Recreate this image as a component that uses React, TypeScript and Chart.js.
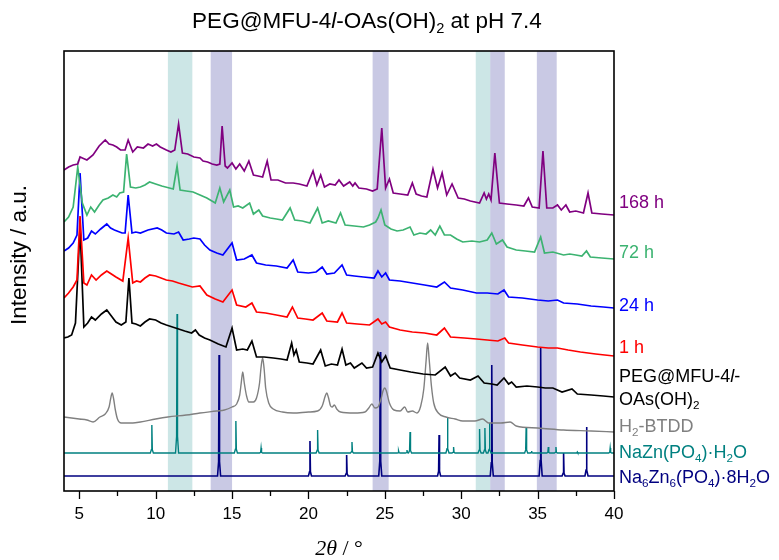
import React, { useEffect, useRef } from "react";
import { Chart, registerables } from "chart.js";
Chart.register(...registerables);

// ---------- data (2θ in degrees, intensity in arbitrary offset units) ----------
const X_MIN = 4;
const X_MAX = 40;
const X_TICKS = [5, 10, 15, 20, 25, 30, 35, 40];
const X_MINOR_TICKS = [7.5, 12.5, 17.5, 22.5, 27.5, 32.5, 37.5];

const TEAL_BANDS = [[10.8, 12.4], [30.95, 31.9]];
const PURPLE_BANDS = [[13.6, 15.0], [24.2, 25.25], [31.9, 32.85], [34.95, 36.25]];

const H168 = [
  [4.0, 321], [4.3, 324], [4.6, 326], [4.9, 327], [5.05, 334], [5.2, 333], [5.5, 331], [5.9, 336], [6.3, 345], [6.7, 351],
  [6.95, 347], [7.2, 346], [7.45, 344], [7.7, 341], [8.0, 341], [8.2, 351], [8.5, 339], [8.8, 344], [9.2, 343], [9.5, 347],
  [9.8, 345], [10.05, 347], [10.3, 344], [10.7, 341], [11.0, 339], [11.25, 341], [11.5, 367], [11.75, 338], [12.1, 337], [12.5, 334],
  [12.9, 333], [13.1, 330], [13.4, 329], [13.7, 327], [14.0, 326], [14.2, 327], [14.35, 365], [14.55, 325], [14.7, 323], [15.0, 328],
  [15.25, 322], [15.5, 327], [15.8, 320], [16.1, 330], [16.4, 316], [16.7, 315], [17.0, 314], [17.3, 330], [17.55, 311], [18.0, 311],
  [18.5, 308], [19.0, 308], [19.4, 307], [19.9, 305], [20.3, 320], [20.55, 306], [20.8, 316], [21.05, 304], [21.4, 307], [21.75, 306],
  [22.0, 311], [22.3, 305], [22.7, 309], [22.9, 305], [23.05, 308], [23.3, 303], [23.8, 302], [24.2, 300], [24.5, 302], [24.8, 363],
  [25.05, 303], [25.3, 312], [25.55, 298], [26.0, 297], [26.5, 296], [26.8, 308], [27.05, 297], [27.4, 295], [27.75, 294], [28.15, 322],
  [28.45, 303], [28.75, 318], [29.05, 296], [29.4, 307], [29.8, 293], [30.2, 292], [30.6, 290], [31.2, 288], [31.5, 298], [31.65, 292],
  [31.8, 297], [31.95, 291], [32.2, 338], [32.5, 288], [33.0, 287], [33.6, 286], [34.1, 285], [34.4, 293], [34.65, 284], [35.1, 283],
  [35.35, 340], [35.6, 283], [36.0, 283], [36.3, 286], [36.55, 281], [36.85, 286], [37.1, 279], [37.5, 280], [38.0, 278], [38.3, 298],
  [38.55, 278], [39.2, 277], [40.0, 276],
];

const H72 = [
  [4.0, 269], [4.3, 274], [4.6, 284], [4.9, 324], [5.2, 288], [5.5, 276], [5.75, 284], [6.0, 279], [6.3, 286], [6.55, 291],
  [6.9, 293], [7.2, 296], [7.45, 294], [7.65, 298], [7.9, 299], [8.1, 337], [8.35, 304], [8.7, 303], [9.0, 304], [9.3, 306],
  [9.6, 309], [10.0, 307], [10.4, 305], [10.9, 303], [11.15, 302], [11.4, 325], [11.6, 301], [12.0, 300], [12.45, 299], [12.9, 296],
  [13.35, 293], [13.9, 288], [14.2, 303], [14.45, 289], [14.85, 301], [15.1, 284], [15.4, 285], [15.7, 283], [16.15, 288], [16.4, 277],
  [16.75, 281], [17.0, 275], [17.5, 273], [17.9, 272], [18.3, 271], [18.8, 283], [19.1, 271], [19.6, 270], [20.1, 268], [20.6, 283],
  [20.9, 268], [21.3, 270], [21.8, 268], [22.1, 278], [22.4, 266], [23.0, 265], [23.6, 264], [24.0, 266], [24.4, 269], [24.55, 273],
  [24.75, 281], [25.0, 266], [25.4, 262], [25.8, 260], [26.2, 261], [26.65, 264], [26.9, 256], [27.3, 258], [27.7, 257], [28.0, 261],
  [28.3, 256], [28.6, 265], [28.9, 256], [29.3, 256], [29.7, 252], [30.1, 249], [30.7, 250], [31.2, 249], [31.7, 251], [32.0, 258],
  [32.3, 247], [32.7, 251], [33.0, 244], [33.6, 241], [34.2, 240], [34.8, 239], [35.2, 254], [35.45, 238], [36.0, 239], [36.7, 236],
  [37.1, 237], [37.5, 236], [37.9, 235], [38.2, 240], [38.45, 234], [39.2, 233], [40.0, 232],
];

const H24 = [
  [4.0, 240], [4.3, 243], [4.6, 248], [4.85, 256], [5.05, 318], [5.3, 251], [5.55, 253], [5.8, 260], [6.05, 257], [6.4, 262],
  [6.8, 267], [7.05, 263], [7.3, 261], [7.8, 258], [8.0, 258], [8.2, 296], [8.45, 258], [8.7, 259], [9.0, 258], [9.5, 261],
  [10.1, 263], [10.4, 261], [10.7, 258], [11.2, 257], [11.5, 259], [11.8, 251], [12.2, 252], [12.5, 253], [12.9, 252], [13.2, 246],
  [13.55, 241], [14.0, 238], [14.4, 236], [15.0, 248], [15.3, 231], [15.8, 232], [16.3, 236], [16.6, 228], [17.2, 226], [17.9, 225],
  [18.6, 223], [19.0, 231], [19.3, 219], [20.0, 218], [20.5, 219], [20.9, 224], [21.2, 217], [21.7, 218], [22.2, 226], [22.5, 216],
  [23.0, 215], [23.6, 214], [24.3, 213], [24.55, 220], [24.8, 214], [25.05, 218], [25.3, 211], [26.0, 210], [26.8, 208], [27.6, 206],
  [28.4, 204], [28.9, 209], [29.3, 203], [30.1, 201], [31.0, 198], [31.7, 198], [32.4, 197], [32.8, 201], [33.1, 194], [34.0, 193],
  [35.0, 191], [35.7, 190], [36.3, 191], [36.7, 188], [37.6, 187], [38.5, 185], [39.3, 184], [40.0, 183],
];

const H1 = [
  [4.0, 193], [4.3, 198], [4.6, 204], [4.85, 211], [5.05, 275], [5.3, 208], [5.5, 206], [5.8, 216], [6.1, 211], [6.45, 216],
  [6.8, 220], [7.1, 217], [7.4, 214], [7.85, 210], [8.2, 253], [8.5, 208], [8.75, 210], [9.0, 209], [9.3, 213], [9.6, 216],
  [10.0, 215], [10.35, 213], [10.7, 211], [11.1, 210], [11.5, 208], [11.95, 206], [12.4, 204], [12.9, 205], [13.35, 196], [13.9, 192],
  [14.4, 189], [15.0, 201], [15.3, 186], [15.9, 184], [16.3, 188], [16.6, 179], [17.2, 178], [17.9, 176], [18.6, 174], [18.95, 184],
  [19.3, 173], [19.8, 172], [20.3, 171], [20.9, 178], [21.2, 170], [21.9, 169], [22.2, 178], [22.5, 168], [23.2, 167], [24.0, 166],
  [24.55, 172], [24.8, 167], [25.05, 169], [25.3, 164], [26.0, 161], [26.8, 159], [27.6, 158], [28.4, 156], [28.9, 163], [29.3, 154],
  [30.2, 153], [31.0, 152], [31.7, 151], [32.4, 150], [32.85, 153], [33.1, 148], [34.0, 146], [35.0, 144], [35.7, 143], [36.3, 143],
  [37.0, 141], [37.8, 139], [38.8, 137], [40.0, 135],
];

const PEG = [
  [4.0, 153], [4.25, 154], [4.5, 156], [4.75, 168], [5.05, 264], [5.3, 164], [5.55, 168], [5.8, 174], [6.05, 171], [6.45, 177],
  [6.8, 181], [7.1, 175], [7.4, 169], [7.75, 166], [8.05, 169], [8.25, 213], [8.45, 168], [8.7, 167], [9.0, 165], [9.3, 169],
  [9.6, 172], [10.0, 171], [10.35, 168], [10.7, 166], [11.1, 164], [11.5, 162], [11.9, 160], [12.35, 158], [12.6, 161], [12.85, 156],
  [13.2, 153], [13.55, 151], [14.1, 147], [14.6, 144], [15.0, 163], [15.3, 141], [15.7, 142], [16.0, 141], [16.3, 150], [16.6, 134],
  [17.1, 134], [17.7, 133], [18.2, 132], [18.6, 131], [18.9, 148], [19.05, 136], [19.2, 141], [19.4, 129], [19.9, 128], [20.3, 127],
  [20.8, 141], [21.1, 125], [21.5, 127], [21.9, 126], [22.2, 142], [22.45, 126], [22.75, 128], [23.0, 123], [23.5, 128], [23.8, 123],
  [24.2, 124], [24.55, 138], [24.8, 129], [25.05, 135], [25.35, 123], [26.0, 121], [26.7, 119], [27.5, 117], [28.3, 116], [28.95, 124],
  [29.3, 115], [29.6, 118], [29.9, 113], [30.6, 111], [31.1, 115], [31.5, 108], [32.0, 107], [32.35, 106], [32.8, 113], [33.1, 107],
  [33.3, 109], [33.6, 104], [34.3, 105], [35.0, 104], [35.5, 103], [36.0, 103], [36.6, 99], [37.25, 102], [37.6, 97], [38.5, 96],
  [39.3, 95], [40.0, 94],
];

const BTDD = [
  [4.0, 74], [4.5, 73], [5.0, 72], [5.5, 71], [5.9, 69], [6.35, 74], [6.7, 77], [6.95, 84], [7.05, 92], [7.15, 98],
  [7.25, 92], [7.35, 82], [7.5, 72], [7.75, 68], [8.5, 68], [9.0, 69], [10.0, 72], [10.8, 74], [12.0, 76], [12.9, 78],
  [14.0, 80], [14.5, 81], [15.0, 84], [15.3, 87], [15.5, 96], [15.6, 108], [15.7, 119], [15.8, 108], [15.95, 95], [16.1, 89],
  [16.4, 89], [16.6, 93], [16.8, 108], [16.9, 124], [17.0, 133], [17.1, 122], [17.2, 103], [17.4, 88], [17.7, 82], [18.3, 79],
  [19.0, 78], [20.0, 79], [20.6, 80], [20.9, 85], [21.1, 95], [21.2, 98], [21.3, 94], [21.45, 85], [21.55, 84], [21.7, 86],
  [21.85, 82], [22.1, 79], [23.0, 78], [23.7, 79], [23.95, 83], [24.15, 87], [24.35, 83], [24.55, 84], [24.75, 92], [24.9, 101],
  [25.0, 103], [25.1, 100], [25.3, 88], [25.6, 81], [26.0, 80], [26.3, 84], [26.5, 79], [26.8, 80], [27.1, 78], [27.35, 85],
  [27.55, 102], [27.7, 130], [27.8, 148], [27.9, 132], [28.05, 105], [28.2, 88], [28.5, 78], [29.0, 74], [29.6, 72], [30.1, 70],
  [30.9, 70], [31.4, 72], [31.8, 68], [32.6, 68], [33.2, 69], [33.6, 65], [35.0, 63], [36.7, 61], [38.5, 60], [40.0, 59],
];

const NAZN_BASE = 38;
const NAZN_PEAKS = [
  [9.75, 66], [11.4, 177], [15.25, 70], [16.9, 43], [20.6, 61], [22.85, 49], [25.9, 40], [26.45, 41], [26.65, 59],
  [29.1, 74], [29.5, 44], [31.2, 62], [31.55, 63], [31.85, 68], [34.25, 64], [34.6, 40], [35.7, 44], [36.2, 44],
  [37.6, 39], [39.75, 43],
];

const NA6_BASE = 15;
const NA6_PEAKS = [
  [14.15, 136], [20.1, 50], [22.5, 36], [24.7, 139], [28.55, 56], [32.0, 126], [35.2, 144], [36.7, 38], [38.2, 64],
];

// ---------- helpers ----------
const toXY = (arr: number[][]) => arr.map(([x, y]) => ({ x, y }));
const stickPattern = (base: number, peaks: number[][]) => {
  const pts: { x: number; y: number }[] = [{ x: X_MIN, y: base }];
  peaks.forEach(([p, h]) => {
    pts.push({ x: p - 0.1, y: base });
    pts.push({ x: p - 0.03, y: base + (h - base) * 0.12 });
    pts.push({ x: p, y: h });
    pts.push({ x: p + 0.03, y: base + (h - base) * 0.12 });
    pts.push({ x: p + 0.1, y: base });
  });
  pts.push({ x: X_MAX, y: base });
  return pts;
};

type Seg = { t: string; sub?: boolean; it?: boolean };

function richWidth(ctx: CanvasRenderingContext2D, segs: Seg[], size: number, family: string) {
  let w = 0;
  segs.forEach((s) => {
    const sz = s.sub ? size * 0.65 : size;
    ctx.font = `${s.it ? "italic " : ""}${sz}px ${family}`;
    w += ctx.measureText(s.t).width;
  });
  return w;
}

function drawRich(
  ctx: CanvasRenderingContext2D,
  segs: Seg[],
  x: number,
  y: number,
  size: number,
  color: string,
  align: "left" | "center",
  family = "'Liberation Sans', Arial, sans-serif"
) {
  const total = richWidth(ctx, segs, size, family);
  let cx = align === "center" ? x - total / 2 : x;
  ctx.fillStyle = color;
  ctx.textAlign = "left";
  ctx.textBaseline = "middle";
  segs.forEach((s) => {
    const sz = s.sub ? size * 0.65 : size;
    ctx.font = `${s.it ? "italic " : ""}${sz}px ${family}`;
    ctx.fillText(s.t, cx, s.sub ? y + size * 0.3 : y);
    cx += ctx.measureText(s.t).width;
  });
}

const SANS = "'Liberation Sans', Arial, sans-serif";

const decorPlugin = {
  id: "decor",
  beforeDatasetsDraw(chart: any) {
    const { ctx, chartArea, scales } = chart;
    const xs = scales.x;
    ctx.save();
    const fillBands = (bands: number[][], color: string) => {
      ctx.fillStyle = color;
      bands.forEach(([a, b]) => {
        const x1 = xs.getPixelForValue(a);
        const x2 = xs.getPixelForValue(b);
        ctx.fillRect(x1, chartArea.top, x2 - x1, chartArea.bottom - chartArea.top);
      });
    };
    fillBands(TEAL_BANDS, "rgba(0,128,128,0.2)");
    fillBands(PURPLE_BANDS, "rgba(0,0,128,0.21)");
    ctx.restore();
  },
  afterDatasetsDraw(chart: any) {
    const { ctx, chartArea, scales } = chart;
    const xs = scales.x;
    ctx.save();
    ctx.strokeStyle = "#000";
    ctx.lineWidth = 1.6;
    ctx.strokeRect(chartArea.left, chartArea.top, chartArea.right - chartArea.left, chartArea.bottom - chartArea.top);
    ctx.lineWidth = 1.3;
    ctx.beginPath();
    X_TICKS.forEach((v) => {
      const px = Math.round(xs.getPixelForValue(v)) + 0.5;
      ctx.moveTo(px, chartArea.bottom);
      ctx.lineTo(px, chartArea.bottom + 8);
    });
    X_MINOR_TICKS.forEach((v) => {
      const px = Math.round(xs.getPixelForValue(v)) + 0.5;
      ctx.moveTo(px, chartArea.bottom);
      ctx.lineTo(px, chartArea.bottom + 5);
    });
    ctx.stroke();

    // title
    drawRich(
      ctx,
      [{ t: "PEG@MFU-4" }, { t: "l", it: true }, { t: "-OAs(OH)" }, { t: "2", sub: true }, { t: " at pH 7.4" }],
      367,
      22,
      22.5,
      "#000",
      "center",
      SANS
    );

    // axis titles
    drawRich(ctx, [{ t: "2θ", it: true }, { t: " / °" }], (chartArea.left + chartArea.right) / 2, 549, 22, "#000", "center", "'Liberation Serif', 'Times New Roman', serif");
    ctx.save();
    ctx.translate(20, 255);
    ctx.rotate(-Math.PI / 2);
    drawRich(ctx, [{ t: "Intensity / a.u." }], 0, 0, 22.5, "#000", "center", SANS);
    ctx.restore();

    // series labels
    const lx = chartArea.right + 5;
    drawRich(ctx, [{ t: "168 h" }], lx, 203, 18, "#800080", "left", SANS);
    drawRich(ctx, [{ t: "72 h" }], lx, 253, 18, "#3cb371", "left", SANS);
    drawRich(ctx, [{ t: "24 h" }], lx, 306, 18, "#0000ff", "left", SANS);
    drawRich(ctx, [{ t: "1 h" }], lx, 348, 18, "#ff0000", "left", SANS);
    drawRich(ctx, [{ t: "PEG@MFU-4" }, { t: "l", it: true }, { t: "-" }], lx, 377, 18, "#000", "left", SANS);
    drawRich(ctx, [{ t: "OAs(OH)" }, { t: "2", sub: true }], lx, 400, 18, "#000", "left", SANS);
    drawRich(ctx, [{ t: "H" }, { t: "2", sub: true }, { t: "-BTDD" }], lx, 427, 18, "#808080", "left", SANS);
    drawRich(
      ctx,
      [{ t: "NaZn(PO" }, { t: "4", sub: true }, { t: ")·H" }, { t: "2", sub: true }, { t: "O" }],
      lx, 453, 18, "#008080", "left", SANS
    );
    drawRich(
      ctx,
      [{ t: "Na" }, { t: "6", sub: true }, { t: "Zn" }, { t: "6", sub: true }, { t: "(PO" }, { t: "4", sub: true }, { t: ")·8H" }, { t: "2", sub: true }, { t: "O" }],
      lx, 478, 18, "#000080", "left", SANS
    );
    ctx.restore();
  },
};

export default function App() {
  const ref = useRef<HTMLCanvasElement>(null);
  useEffect(() => {
    const line = (data: any[], color: string, extra: any = {}) => ({
      data,
      borderColor: color,
      backgroundColor: color,
      borderWidth: 1.7,
      pointRadius: 0,
      showLine: true,
      fill: false,
      tension: 0,
      ...extra,
    });
    const chart = new Chart(ref.current!, {
      type: "scatter",
      data: {
        datasets: [
          line(toXY(H168), "#800080"),
          line(toXY(H72), "#3cb371"),
          line(toXY(H24), "#0000ff"),
          line(toXY(H1), "#ff0000"),
          line(toXY(PEG), "#000000"),
          line(toXY(BTDD), "#808080", { cubicInterpolationMode: "monotone", borderWidth: 1.4 }),
          line(stickPattern(NAZN_BASE, NAZN_PEAKS), "#008080", { borderWidth: 1.4 }),
          line(stickPattern(NA6_BASE, NA6_PEAKS), "#000080", { borderWidth: 1.6 }),
        ],
      },
      options: {
        animation: false,
        responsive: false,
        devicePixelRatio: 1,
        layout: { padding: { left: 64, right: 165, top: 51, bottom: 0 } },
        plugins: { legend: { display: false }, tooltip: { enabled: false }, title: { display: false } },
        scales: {
          x: {
            type: "linear",
            min: X_MIN,
            max: X_MAX,
            grid: { display: false, drawTicks: false },
            border: { display: false },
            afterBuildTicks: (s: any) => {
              s.ticks = X_TICKS.map((v) => ({ value: v }));
            },
            afterFit: (s: any) => {
              s.height = 69;
            },
            ticks: {
              autoSkip: false,
              maxRotation: 0,
              padding: 13,
              color: "#000",
              font: { family: SANS, size: 17 },
              callback: (v: any) => String(v),
            },
          },
          y: { display: false, min: 0, max: 440 },
        },
      },
      plugins: [decorPlugin],
    });
    return () => chart.destroy();
  }, []);
  return (
    <div style={{ position: "fixed", left: 0, top: 0, width: 779, height: 560, background: "#fff" }}>
      <canvas ref={ref} width={779} height={560} style={{ width: 779, height: 560, display: "block" }} />
    </div>
  );
}
